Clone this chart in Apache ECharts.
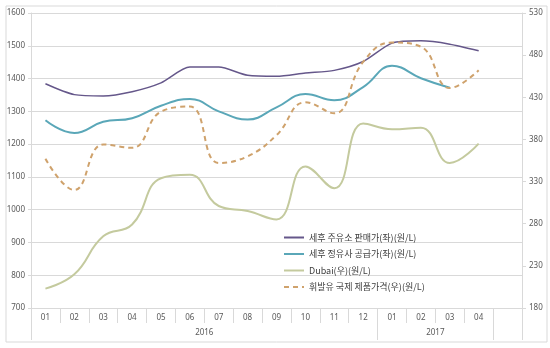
<!DOCTYPE html>
<html>
<head>
<meta charset="utf-8">
<script src="https://cdn.jsdelivr.net/npm/echarts@6/dist/echarts.min.js"></script>
<style>
html,body{margin:0;padding:0;background:#fff;}
#c{width:550px;height:348px;}
</style>
</head>
<body>
<div id="c"></div>
<script>
const months = ['01','02','03','04','05','06','07','08','09','10','11','12','01','02','03','04',''];
const yearLabels = ['2016','2017'];
const stationPrice = [1384,1351,1347,1360,1387,1435,1435,1410,1407,1417,1425,1452,1508,1515,1505,1485,null];
const refineryPrice = [1273,1234,1268,1279,1317,1338,1300,1275,1312,1353,1334,1374,1439,1401,1372,null,null];
const dubaiPrice = [203,220,265,279,334,338,301,295,285,348,322,399,392,394,352,375,null];
const gasolinePrice = [357,320,374,370,413,419,352,360,385,424,411,472,495,490,441,462,null];
const leftTicks = [700,800,900,1000,1100,1200,1300,1400,1500,1600];
const rightTicks = [180,230,280,330,380,430,480,530];
const names = ['세후 주유소 판매가(좌)(원/L)','세후 정유사 공급가(좌)(원/L)','Dubai(우)(원/L)','휘발유 국제 제품가격(우)(원/L)'];

const axisColor = '#d9d9d9';
const labelStyle = {fontSize: 8, color: '#595959', fontFamily: 'Noto Sans'};
const chart = echarts.init(document.getElementById('c'), null, {renderer: 'canvas'});
chart.setOption({
  animation: false,
  backgroundColor: '#fff',
  graphic: [{type: 'rect', shape: {x: 6, y: 6, width: 541, height: 336}, style: {fill: 'none', stroke: '#d9d9d9', lineWidth: 1}, silent: true}],
  grid: {left: 31, right: 28, top: 13, bottom: 40},
  legend: {
    orient: 'vertical', left: 278, top: 228,
    itemWidth: 20, itemHeight: 8, itemGap: 7.5,
    itemStyle: {opacity: 0},
    textStyle: {fontSize: 9, color: '#404040', fontFamily: 'Noto Sans CJK KR'},
    data: names
  },
  xAxis: [{
    type: 'category', data: months, boundaryGap: true, position: 'bottom',
    axisLine: {show: true, lineStyle: {color: axisColor}},
    axisTick: {show: true, interval: 0, length: 15, lineStyle: {color: axisColor}},
    axisLabel: Object.assign({interval: 0, margin: 6}, labelStyle),
    splitLine: {show: false}
  }, {
    type: 'value', min: 0, max: 17, position: 'bottom',
    axisLine: {show: false},
    axisTick: {show: true, customValues: [0, 12, 16, 17], length: 32, lineStyle: {color: axisColor}},
    axisLabel: Object.assign({customValues: [6, 14], margin: 21, formatter: v => v === 6 ? yearLabels[0] : (v === 14 ? yearLabels[1] : '')}, labelStyle),
    splitLine: {show: false}
  }],
  yAxis: [{
    type: 'value', min: 700, max: 1600, interval: 100, position: 'left',
    axisLine: {show: true, lineStyle: {color: axisColor}},
    axisTick: {show: true, length: 3, customValues: leftTicks, lineStyle: {color: axisColor}},
    axisLabel: Object.assign({margin: 6, customValues: leftTicks, formatter: v => String(v)}, labelStyle),
    splitLine: {show: true, lineStyle: {color: axisColor, width: 1}}
  }, {
    type: 'value', min: 180, max: 530, interval: 50, position: 'right',
    axisLine: {show: true, lineStyle: {color: axisColor}},
    axisTick: {show: true, length: 4, customValues: rightTicks, lineStyle: {color: axisColor}},
    axisLabel: Object.assign({margin: 7, customValues: rightTicks, formatter: v => String(v)}, labelStyle),
    splitLine: {show: false}
  }],
  series: [
    {name: names[0], type: 'line', data: stationPrice, yAxisIndex: 0, smooth: 0.25, symbol: 'none',
     lineStyle: {color: '#65578a', width: 1.5}, itemStyle: {color: '#65578a'}},
    {name: names[1], type: 'line', data: refineryPrice, yAxisIndex: 0, smooth: 0.45, symbol: 'none',
     lineStyle: {color: '#5aa7b8', width: 2}, itemStyle: {color: '#5aa7b8'}},
    {name: names[2], type: 'line', data: dubaiPrice, yAxisIndex: 1, smooth: 0.45, symbol: 'none',
     lineStyle: {color: '#c4ca9e', width: 2}, itemStyle: {color: '#c4ca9e'}},
    {name: names[3], type: 'line', data: gasolinePrice, yAxisIndex: 1, smooth: 0.45, symbol: 'none',
     lineStyle: {color: '#cfa26c', width: 2, type: [5, 4]}, itemStyle: {color: '#cfa26c'}}
  ]
});
</script>
</body>
</html>
